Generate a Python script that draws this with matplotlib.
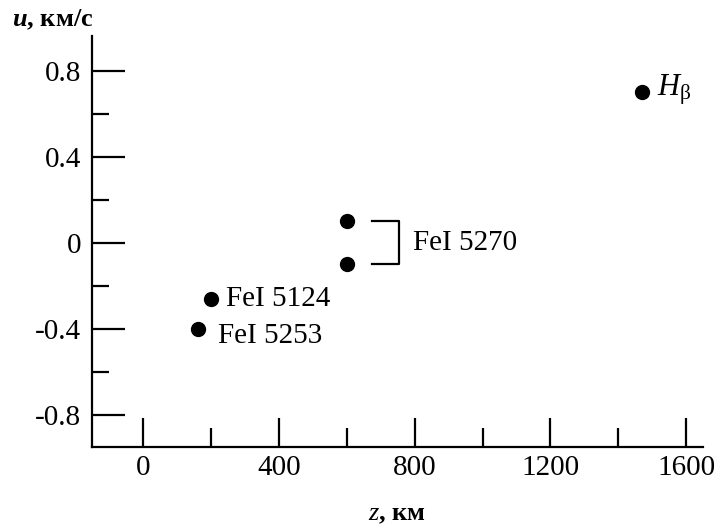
import matplotlib
matplotlib.use("Agg")
import matplotlib.pyplot as plt
from matplotlib.ticker import FixedLocator, FixedFormatter

plt.rcParams["font.family"] = ["Liberation Serif", "DejaVu Serif"]
plt.rcParams["mathtext.fontset"] = "custom"
plt.rcParams["mathtext.rm"] = "Liberation Serif"
plt.rcParams["mathtext.it"] = "Liberation Serif:italic"
plt.rcParams["mathtext.bf"] = "Liberation Serif:italic:bold"

# точки: высота образования линии z (км) и скорость u (км/с)
line_names = ["FeI 5253", "FeI 5124", "FeI 5270", "FeI 5270", "Hb"]
z_km = [160, 200, 600, 600, 1470]
u_kms = [-0.40, -0.26, 0.10, -0.10, 0.70]

x_major = [0, 400, 800, 1200, 1600]
x_minor = [200, 600, 1000, 1400]
x_labels = ["0", "400", "800", "1200", "1600"]
y_major = [-0.8, -0.4, 0.0, 0.4, 0.8]
y_minor = [-0.6, -0.2, 0.2, 0.6]
y_labels = ["-0.8", "-0.4", "0", "0.4", "0.8"]

FS = 21

fig = plt.figure(figsize=(7.16, 5.32), dpi=100)
ax = fig.add_axes([0.129, 0.160, 0.853, 0.772])

ax.plot(z_km, u_kms, "o", color="black", markersize=10, zorder=3)

ax.set_xlim(-150, 1650)
ax.set_ylim(-0.95, 0.96)

for s in ["top", "right"]:
    ax.spines[s].set_visible(False)
for s in ["left", "bottom"]:
    ax.spines[s].set_linewidth(1.6)

ax.xaxis.set_major_locator(FixedLocator(x_major))
ax.xaxis.set_minor_locator(FixedLocator(x_minor))
ax.xaxis.set_major_formatter(FixedFormatter(x_labels))
ax.yaxis.set_major_locator(FixedLocator(y_major))
ax.yaxis.set_minor_locator(FixedLocator(y_minor))
ax.yaxis.set_major_formatter(FixedFormatter(y_labels))

ax.tick_params(axis="x", which="major", direction="in", length=21, width=1.6, pad=6, labelsize=FS)
ax.tick_params(axis="x", which="minor", direction="in", length=14, width=1.6)
ax.tick_params(axis="y", which="major", direction="in", length=24, width=1.6, pad=8, labelsize=FS)
ax.tick_params(axis="y", which="minor", direction="in", length=12, width=1.6)

# подписи линий
ax.text(z_km[1] + 45, u_kms[1], line_names[1], fontsize=FS, va="center", ha="left")
ax.text(z_km[0] + 60, u_kms[0] - 0.035, line_names[0], fontsize=FS, va="center", ha="left")
ax.text(z_km[4] + 45, u_kms[4] + 0.01, r"$\mathit{H}_{\mathrm{β}}$", fontsize=22, va="center", ha="left")

# скобка для FeI 5270
bx0, bx1 = z_km[2] + 73, z_km[2] + 155
ax.plot([bx0, bx1, bx1, bx0], [u_kms[2], u_kms[2], u_kms[3], u_kms[3]],
        color="black", linewidth=1.6)
ax.text(bx1 + 40, 0.0, line_names[2], fontsize=FS, va="center", ha="left")

fig.text(12 / 716, 1 - 20 / 532, r"$\mathbf{u}$, км/с", fontsize=19,
         fontweight="bold", ha="left", va="center")
fig.text(397 / 716, 1 - 514 / 532, r"$\mathit{z}$, км", fontsize=19,
         fontweight="bold", ha="center", va="center")

fig.savefig("out.png", dpi=100)
